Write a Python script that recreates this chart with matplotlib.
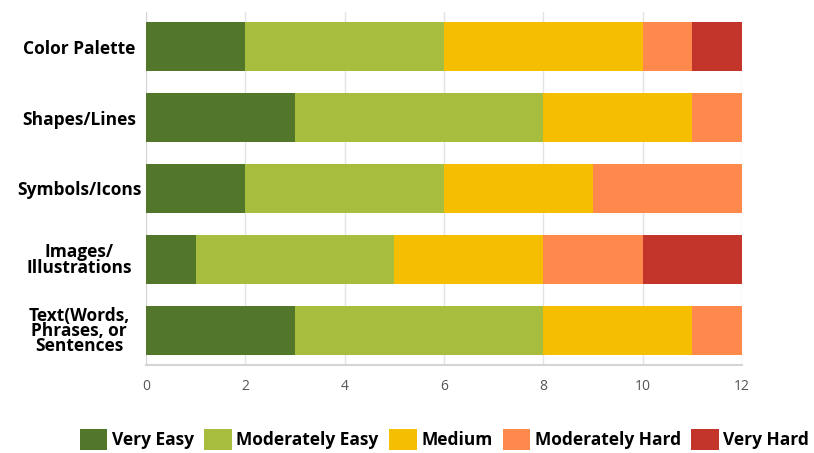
import matplotlib
matplotlib.use("Agg")
import matplotlib.pyplot as plt
import numpy as np

categories = ["Color Palette", "Shapes/Lines", "Symbols/Icons", "Images/\nIllustrations",
              "Text(Words,\nPhrases, or\nSentences"]
series_names = ["Very Easy", "Moderately Easy", "Medium", "Moderately Hard", "Very Hard"]
very_easy = [2, 3, 2, 1, 3]
moderately_easy = [4, 5, 4, 4, 5]
medium = [4, 3, 3, 3, 3]
moderately_hard = [1, 1, 3, 2, 1]
very_hard = [1, 0, 0, 2, 0]
colors = ["#52772A", "#A6BD3D", "#F5BE00", "#FF884D", "#C3352B"]
xticks = [0, 2, 4, 6, 8, 10, 12]

series = [very_easy, moderately_easy, medium, moderately_hard, very_hard]

fig = plt.figure(figsize=(8.14, 4.53), dpi=100)
ax = fig.add_axes([0.1794, 0.1943, 0.7322, 0.7792])
y = np.arange(len(categories))
left = np.zeros(len(categories))
for name, vals, c in zip(series_names, series, colors):
    ax.barh(y, vals, left=left, height=0.69, color=c, label=name, zorder=3)
    left += np.array(vals)

ax.set_ylim(len(categories) - 1 + 0.486, -0.486)
ax.set_xlim(0, 12)
ax.set_xticks(xticks)
ax.set_xticklabels([str(t) for t in xticks], color="#555555", fontsize=10, family="Open Sans")
ax.set_yticks(y)
ax.set_yticklabels(categories, fontsize=12.5, fontweight="bold", family="Open Sans",
                   linespacing=0.8, ha="center", va="center_baseline")
for lab in ax.get_yticklabels():
    lab.set_x(-0.104)
ax.tick_params(axis="both", length=0)
ax.tick_params(axis="x", pad=10)
ax.grid(axis="x", color="#E3E3E3", linewidth=1, zorder=0)
for s in ["top", "right"]:
    ax.spines[s].set_visible(False)
ax.spines["left"].set_color("#D5D5D5")
ax.spines["bottom"].set_color("#D5D5D5")
ax.spines["bottom"].set_linewidth(1.5)

handles, labels = ax.get_legend_handles_labels()
leg = fig.legend(handles, labels, loc="center", bbox_to_anchor=(0.546, 0.03), ncol=5,
                 frameon=False, handlelength=1.6, handleheight=1.5, handletextpad=0.25,
                 columnspacing=0.6, prop={"family": "Open Sans", "weight": "bold", "size": 12.5})
fig.savefig("out.png", dpi=100)
